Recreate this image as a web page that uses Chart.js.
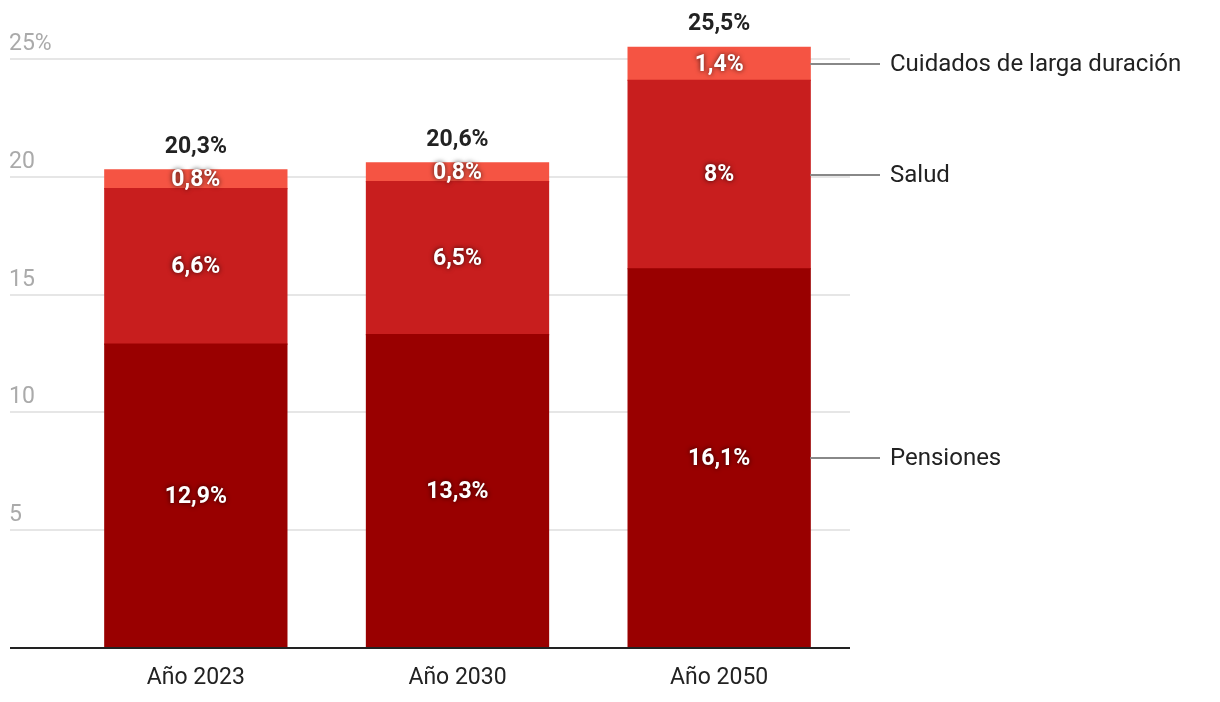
<!DOCTYPE html>
<html>
<head>
<meta charset="utf-8">
<script src="https://cdn.jsdelivr.net/npm/chart.js@4.4.1/dist/chart.umd.min.js"></script>
<style>
  html, body { margin: 0; padding: 0; background: #fff; }
  #wrap { width: 1220px; height: 702px; position: relative; }
</style>
</head>
<body>
<div id="wrap"><canvas id="chart"></canvas></div>
<script>
// ── Data ──
const years      = ['Año 2023', 'Año 2030', 'Año 2050'];
const pensiones  = [12.9, 13.3, 16.1];
const salud      = [6.6, 6.5, 8];
const cuidados   = [0.8, 0.8, 1.4];
const totals     = [20.3, 20.6, 25.5];
const seriesNames = ['Pensiones', 'Salud', 'Cuidados de larga duración'];
const yTicks     = [5, 10, 15, 20, 25];

const FONT = 'Roboto, "Noto Sans", sans-serif';
const fmt  = v => String(v).replace('.', ',') + '%';

// ── Gridlines, tick labels and baseline (drawn from the y scale) ──
const gridPlugin = {
  id: 'grid',
  beforeDatasetsDraw(chart) {
    const { ctx, scales: { y }, chartArea: a } = chart;
    ctx.save();
    ctx.strokeStyle = '#e6e6e6';
    ctx.lineWidth = 2;
    ctx.font = '23px ' + FONT;
    ctx.fillStyle = '#aaaaaa';
    ctx.textAlign = 'left';
    ctx.textBaseline = 'alphabetic';
    yTicks.forEach((t, i) => {
      const py = Math.round(y.getPixelForValue(t));
      ctx.beginPath();
      ctx.moveTo(10, py);
      ctx.lineTo(a.right, py);
      ctx.stroke();
      ctx.fillText(i === yTicks.length - 1 ? t + '%' : String(t), 9, py - 9);
    });
    ctx.restore();
  },
  afterDatasetsDraw(chart) {
    const { ctx, scales: { y }, chartArea: a } = chart;
    const py = y.getPixelForValue(0);
    ctx.save();
    ctx.strokeStyle = '#222';
    ctx.lineWidth = 2;
    ctx.beginPath();
    ctx.moveTo(10, py);
    ctx.lineTo(a.right, py);
    ctx.stroke();
    ctx.restore();
  }
};

// ── Value labels, totals and series labels on the right ──
const labelPlugin = {
  id: 'labels',
  afterDatasetsDraw(chart) {
    const { ctx } = chart;
    ctx.save();
    ctx.textAlign = 'center';
    ctx.textBaseline = 'middle';

    chart.data.datasets.forEach((ds, di) => {
      const meta = chart.getDatasetMeta(di);
      meta.data.forEach((bar, i) => {
        const cy = (bar.y + bar.base) / 2;
        ctx.font = 'bold 23px ' + FONT;
        ctx.fillStyle = '#fff';
        ctx.shadowColor = 'rgba(0,0,0,0.75)';
        ctx.shadowBlur = 5;
        ctx.fillText(fmt(ds.data[i]), bar.x, cy + 1);
        ctx.shadowBlur = 0;
        ctx.shadowColor = 'transparent';
      });
    });

    // totals above each stack
    const top = chart.getDatasetMeta(chart.data.datasets.length - 1);
    top.data.forEach((bar, i) => {
      ctx.font = 'bold 23px ' + FONT;
      ctx.fillStyle = '#222';
      ctx.fillText(fmt(totals[i]), bar.x, bar.y - 23);
    });

    // series labels next to the last bar
    const last = years.length - 1;
    ctx.textAlign = 'left';
    chart.data.datasets.forEach((ds, di) => {
      const bar = chart.getDatasetMeta(di).data[last];
      const cy = Math.round((bar.y + bar.base) / 2);
      const x0 = bar.x + bar.width / 2;
      ctx.strokeStyle = '#888';
      ctx.lineWidth = 2;
      ctx.beginPath();
      ctx.moveTo(x0, cy);
      ctx.lineTo(880, cy);
      ctx.stroke();
      ctx.font = '24px ' + FONT;
      ctx.fillStyle = '#222';
      ctx.fillText(ds.label, 890, cy + 1);
    });
    ctx.restore();
  }
};

new Chart(document.getElementById('chart'), {
  type: 'bar',
  data: {
    labels: years,
    datasets: [
      { label: seriesNames[0], data: pensiones, backgroundColor: '#990000' },
      { label: seriesNames[1], data: salud,     backgroundColor: '#c81e1e' },
      { label: seriesNames[2], data: cuidados,  backgroundColor: '#f55443' },
    ],
  },
  options: {
    responsive: true, maintainAspectRatio: false,
    animation: false,
    devicePixelRatio: 1,
    layout: { padding: { left: 65, right: 370, top: 12, bottom: 0 } },
    plugins: { legend: { display: false }, tooltip: { enabled: false } },
    datasets: { bar: { categoryPercentage: 1, barPercentage: 0.696, borderWidth: 0, inflateAmount: 0.6 } },
    scales: {
      x: {
        stacked: true,
        grid: { display: false },
        border: { display: false },
        ticks: { color: '#222', font: { family: FONT, size: 23 }, padding: 8 },
        afterFit(scale) { scale.height = 54; },
      },
      y: {
        stacked: true,
        display: false,
        min: 0, max: 27,
        ticks: { stepSize: 5 },
      },
    },
  },
  plugins: [gridPlugin, labelPlugin],
});
</script>
</body>
</html>
